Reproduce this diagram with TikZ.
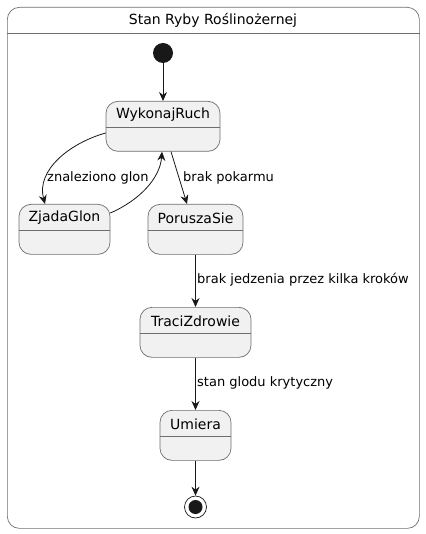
\documentclass[tikz,border=0pt]{standalone}
\usepackage{fontspec}
\setmainfont{DejaVu Sans}
\usetikzlibrary{arrows.meta,calc}
\definecolor{umlline}{HTML}{181818}
\definecolor{umlfill}{HTML}{F1F1F1}
\definecolor{umlborder}{HTML}{6E6E6E}
\tikzset{
  statebox/.style={draw=umlborder, fill=umlfill, line width=0.7pt, rounded corners=12pt, minimum height=50pt, inner sep=0pt, anchor=north},
  statetext/.style={font=\fontsize{14}{16}\selectfont, inner sep=0pt},
  divider/.style={draw=umlborder, line width=0.7pt},
  trans/.style={draw=umlline, line width=0.8pt, -{Stealth[length=9pt,width=8pt,inset=3pt]}},
  lbl/.style={font=\fontsize{13}{15}\selectfont, inner sep=0pt, anchor=west},
}
\newcommand\umlstate[5]{%
  \node[statebox, minimum width=#4] (#1) at (#2,#3) {};
  \node[statetext] (#1-name) at ($(#1.north)+(0,14)$) {#5};
  \draw[divider] ($(#1.north west)+(0,26)$) -- ($(#1.north east)+(0,26)$);
}
\begin{document}
\begin{tikzpicture}[x=1pt,y=-1pt]
\useasboundingbox (0,0) rectangle (425,534);
% outer frame
\node[draw=umlborder, line width=0.7pt, rounded corners=12pt, minimum width=412pt, minimum height=521pt, inner sep=0pt, anchor=north west] (frame) at (7,7) {};
\node[font=\fontsize{14}{16}\selectfont, inner sep=0pt] (title) at (213,20) {Stan Ryby Roślinożernej};
\draw[divider] (frame.north west |- 0,33) -- (frame.north east |- 0,33);
% initial
\node[circle, fill=umlline, minimum size=20pt, inner sep=0pt] (init) at (163,53) {};
% states
\umlstate{W}{163}{101}{114pt}{WykonajRuch}
\umlstate{Z}{64.5}{204}{91pt}{ZjadaGlon}
\umlstate{P}{195.5}{204}{95pt}{PoruszaSie}
\umlstate{T}{195.5}{307}{111pt}{TraciZdrowie}
\umlstate{U}{195.5}{410}{71pt}{Umiera}
% final
\node[circle, draw=umlline, line width=0.7pt, fill=white, minimum size=22pt, inner sep=0pt] (fin) at (195.5,507) {};
\node[circle, fill=umlline, minimum size=14pt, inner sep=0pt] (finin) at (fin) {};
% transitions
\draw[trans] (init) -- (W.north -| init);
\draw[trans] (W.west |- 0,133) .. controls (70,143) and (36,170) .. (Z.north -| 45,0);
\node[lbl] (l1) at (47,178) {znaleziono glon};
\draw[trans] (Z.east |- 0,213) .. controls (140,200) and (160,178) .. (W.south -| 162,0);
\draw[trans] (W.south -| 171,0) -- (P.north -| 187,0);
\node[lbl] (l2) at (183,178) {brak pokarmu};
\draw[trans] (P.south) -- (T.north);
\node[lbl] (l3) at (197,280) {brak jedzenia przez kilka kroków};
\draw[trans] (T.south) -- (U.north);
\node[lbl] (l4) at (197,383) {stan glodu krytyczny};
\draw[trans] (U.south) -- (fin.north);
\end{tikzpicture}
\end{document}
